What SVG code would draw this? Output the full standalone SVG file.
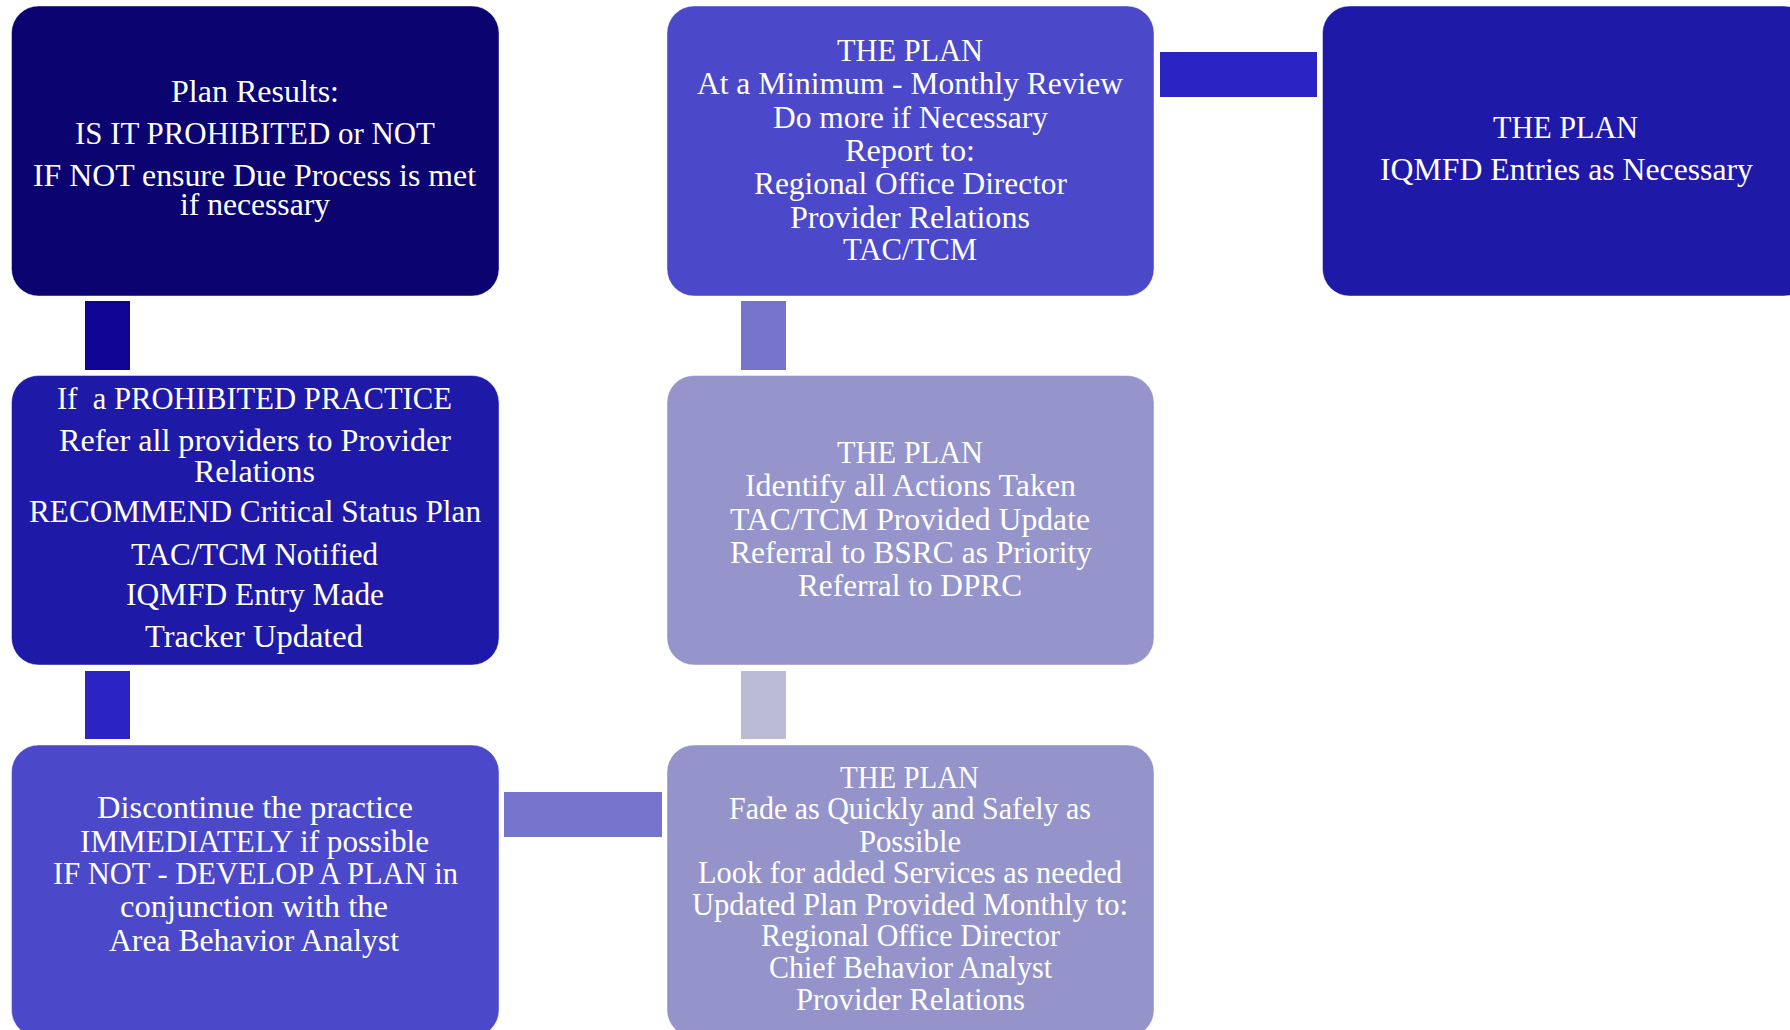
<svg xmlns="http://www.w3.org/2000/svg" width="1790" height="1030" viewBox="0 0 1790 1030">
<style>
.box{stroke:#ffffff;stroke-opacity:0.45;stroke-width:1}
.t{font-family:"Liberation Serif","DejaVu Serif",serif;font-size:31px;fill:#ffffff}
</style>
<rect width="1790" height="1030" fill="#ffffff"/>
<g id="connectors">
<rect x="85" y="301" width="45" height="69" fill="#0F0494"/>
<rect x="85" y="671" width="45" height="68" fill="#2C23C5"/>
<rect x="504" y="792" width="158" height="45" fill="#7674CC"/>
<rect x="741" y="671" width="45" height="68" fill="#BBBBD8"/>
<rect x="741" y="301" width="45" height="69" fill="#7674CC"/>
<rect x="1160" y="52" width="157" height="45" fill="#2C23C5"/>
</g>
<g id="node1">
<rect class="box" x="11.5" y="6" width="487.5" height="290" rx="27" fill="#0B0470"/>
<text class="t" x="171" y="102" textLength="168" lengthAdjust="spacingAndGlyphs">Plan Results:</text>
<text class="t" x="75" y="144" textLength="360" lengthAdjust="spacingAndGlyphs">IS IT PROHIBITED or NOT</text>
<text class="t" x="33" y="186" textLength="443" lengthAdjust="spacingAndGlyphs">IF NOT ensure Due Process is met</text>
<text class="t" x="180" y="215" textLength="150" lengthAdjust="spacingAndGlyphs">if necessary</text>
</g>
<g id="node2">
<rect class="box" x="11.5" y="375.5" width="487.5" height="289.5" rx="27" fill="#1F19A8"/>
<text class="t" x="57" y="409" textLength="395" lengthAdjust="spacingAndGlyphs">If&#160; a PROHIBITED PRACTICE</text>
<text class="t" x="59" y="451" textLength="392" lengthAdjust="spacingAndGlyphs">Refer all providers to Provider</text>
<text class="t" x="194" y="482" textLength="121" lengthAdjust="spacingAndGlyphs">Relations</text>
<text class="t" x="29" y="522" textLength="452" lengthAdjust="spacingAndGlyphs">RECOMMEND Critical Status Plan</text>
<text class="t" x="131" y="565" textLength="247" lengthAdjust="spacingAndGlyphs">TAC/TCM Notified</text>
<text class="t" x="126" y="605" textLength="258" lengthAdjust="spacingAndGlyphs">IQMFD Entry Made</text>
<text class="t" x="145" y="647" textLength="218" lengthAdjust="spacingAndGlyphs">Tracker Updated</text>
</g>
<g id="node3">
<rect class="box" x="11.5" y="745" width="487.5" height="292" rx="27" fill="#4B49C9"/>
<text class="t" x="97" y="818" textLength="316" lengthAdjust="spacingAndGlyphs">Discontinue the practice</text>
<text class="t" x="80" y="852" textLength="349" lengthAdjust="spacingAndGlyphs">IMMEDIATELY if possible</text>
<text class="t" x="53" y="884" textLength="405" lengthAdjust="spacingAndGlyphs">IF NOT - DEVELOP A PLAN in</text>
<text class="t" x="120" y="917" textLength="268" lengthAdjust="spacingAndGlyphs">conjunction with the</text>
<text class="t" x="109" y="951" textLength="290" lengthAdjust="spacingAndGlyphs">Area Behavior Analyst</text>
</g>
<g id="node4">
<rect class="box" x="667" y="745" width="487" height="292" rx="27" fill="#9494CA"/>
<text class="t" x="840" y="788" textLength="139" lengthAdjust="spacingAndGlyphs">THE PLAN</text>
<text class="t" x="729" y="819" textLength="362" lengthAdjust="spacingAndGlyphs">Fade as Quickly and Safely as</text>
<text class="t" x="859" y="852" textLength="102" lengthAdjust="spacingAndGlyphs">Possible</text>
<text class="t" x="698" y="883" textLength="424" lengthAdjust="spacingAndGlyphs">Look for added Services as needed</text>
<text class="t" x="692" y="915" textLength="436" lengthAdjust="spacingAndGlyphs">Updated Plan Provided Monthly to:</text>
<text class="t" x="761" y="946" textLength="299" lengthAdjust="spacingAndGlyphs">Regional Office Director</text>
<text class="t" x="769" y="978" textLength="283" lengthAdjust="spacingAndGlyphs">Chief Behavior Analyst</text>
<text class="t" x="796" y="1010" textLength="229" lengthAdjust="spacingAndGlyphs">Provider Relations</text>
</g>
<g id="node5">
<rect class="box" x="667" y="375.5" width="487" height="289.5" rx="27" fill="#9594CB"/>
<text class="t" x="837" y="463" textLength="146" lengthAdjust="spacingAndGlyphs">THE PLAN</text>
<text class="t" x="745" y="496" textLength="331" lengthAdjust="spacingAndGlyphs">Identify all Actions Taken</text>
<text class="t" x="730" y="530" textLength="360" lengthAdjust="spacingAndGlyphs">TAC/TCM Provided Update</text>
<text class="t" x="730" y="563" textLength="362" lengthAdjust="spacingAndGlyphs">Referral to BSRC as Priority</text>
<text class="t" x="798" y="596" textLength="224" lengthAdjust="spacingAndGlyphs">Referral to DPRC</text>
</g>
<g id="node6">
<rect class="box" x="667" y="6" width="487" height="290" rx="27" fill="#4B49C9"/>
<text class="t" x="837" y="61" textLength="146" lengthAdjust="spacingAndGlyphs">THE PLAN</text>
<text class="t" x="697" y="94" textLength="426" lengthAdjust="spacingAndGlyphs">At a Minimum - Monthly Review</text>
<text class="t" x="773" y="128" textLength="275" lengthAdjust="spacingAndGlyphs">Do more if Necessary</text>
<text class="t" x="845" y="161" textLength="130" lengthAdjust="spacingAndGlyphs">Report to:</text>
<text class="t" x="754" y="194" textLength="313" lengthAdjust="spacingAndGlyphs">Regional Office Director</text>
<text class="t" x="790" y="228" textLength="240" lengthAdjust="spacingAndGlyphs">Provider Relations</text>
<text class="t" x="843" y="260" textLength="134" lengthAdjust="spacingAndGlyphs">TAC/TCM</text>
</g>
<g id="node7">
<rect class="box" x="1322.5" y="6" width="488" height="290" rx="27" fill="#1F19A8"/>
<text class="t" x="1493" y="138" textLength="145" lengthAdjust="spacingAndGlyphs">THE PLAN</text>
<text class="t" x="1380" y="180" textLength="373" lengthAdjust="spacingAndGlyphs">IQMFD Entries as Necessary</text>
</g>
</svg>
